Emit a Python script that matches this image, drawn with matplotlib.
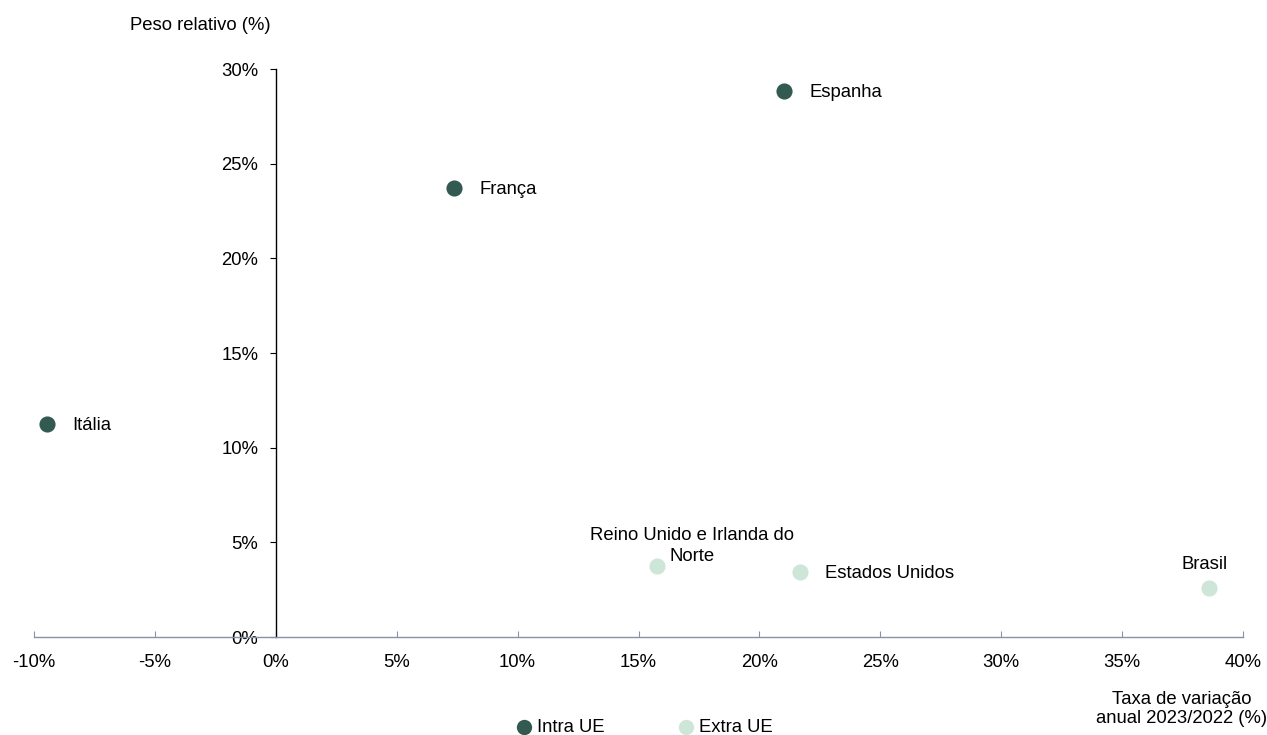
import matplotlib.pyplot as plt
from matplotlib.ticker import FuncFormatter

plt.rcParams['font.family'] = ['Liberation Sans', 'DejaVu Sans']

# data (% values)
paises = ["Itália", "França", "Espanha", "Reino Unido e Irlanda do\nNorte", "Estados Unidos", "Brasil"]
taxa_var = [-9.45, 7.37, 21.02, 15.77, 21.68, 38.6]
peso_rel = [11.25, 23.72, 28.84, 3.75, 3.43, 2.59]
grupo = ["Intra UE", "Intra UE", "Intra UE", "Extra UE", "Extra UE", "Extra UE"]

cores = {"Intra UE": "#335a50", "Extra UE": "#cde6d8"}
posicao = ["right", "right", "right", "above_shift", "right", "above"]
FS = 13.3

fig = plt.figure(figsize=(12.67, 7.35), dpi=100)
ax = fig.add_axes([34 / 1267, 1 - 637 / 735, 1209 / 1267, 568 / 735])

for g in ["Intra UE", "Extra UE"]:
    xs = [x for x, gg in zip(taxa_var, grupo) if gg == g]
    ys = [y for y, gg in zip(peso_rel, grupo) if gg == g]
    ax.scatter(xs, ys, s=135, color=cores[g], label=g, zorder=3, linewidths=0)

for nome, x, y, p in zip(paises, taxa_var, peso_rel, posicao):
    if p == "right":
        ax.annotate(nome, (x, y), xytext=(18, -1), textcoords="offset points",
                    ha="left", va="center", fontsize=FS)
    elif p == "above_shift":
        ax.annotate(nome, (x, y), xytext=(25, 1), textcoords="offset points",
                    ha="center", va="bottom", fontsize=FS, linespacing=1.25)
    else:
        ax.annotate(nome, (x, y), xytext=(-3, 11), textcoords="offset points",
                    ha="center", va="bottom", fontsize=FS)

ax.set_xlim(-10, 40)
ax.set_ylim(0, 30)
ax.set_xticks(range(-10, 41, 5))
ax.set_yticks(range(0, 31, 5))
pct = FuncFormatter(lambda v, _: f"{v:.0f}%")
ax.xaxis.set_major_formatter(pct)
ax.yaxis.set_major_formatter(pct)

for s in ["top", "right"]:
    ax.spines[s].set_visible(False)
ax.spines["left"].set_position(("data", 0))
ax.spines["left"].set_color("black")
ax.spines["left"].set_linewidth(1)
ax.spines["bottom"].set_color("#8593a8")
ax.spines["bottom"].set_linewidth(1)

ax.tick_params(axis="y", direction="out", length=4.5, color="black", labelsize=FS, pad=8)
ax.tick_params(axis="x", direction="in", length=4.5, color="#8593a8", labelsize=FS, pad=12)

fig.text(200 / 1267, 1 - 25 / 735, "Peso relativo (%)", ha="center", va="center", fontsize=FS)
fig.text(1182 / 1267, 1 - 709 / 735, "Taxa de variação\nanual 2023/2022 (%)", ha="center",
         va="center", fontsize=FS, linespacing=1.2)

fig.legend(loc="center", bbox_to_anchor=(644 / 1267, 1 - 727 / 735), ncol=2, frameon=False,
           fontsize=FS, handlelength=1.0, handletextpad=0.2, columnspacing=3.9, markerscale=0.95)

fig.savefig("out.png", dpi=100)
